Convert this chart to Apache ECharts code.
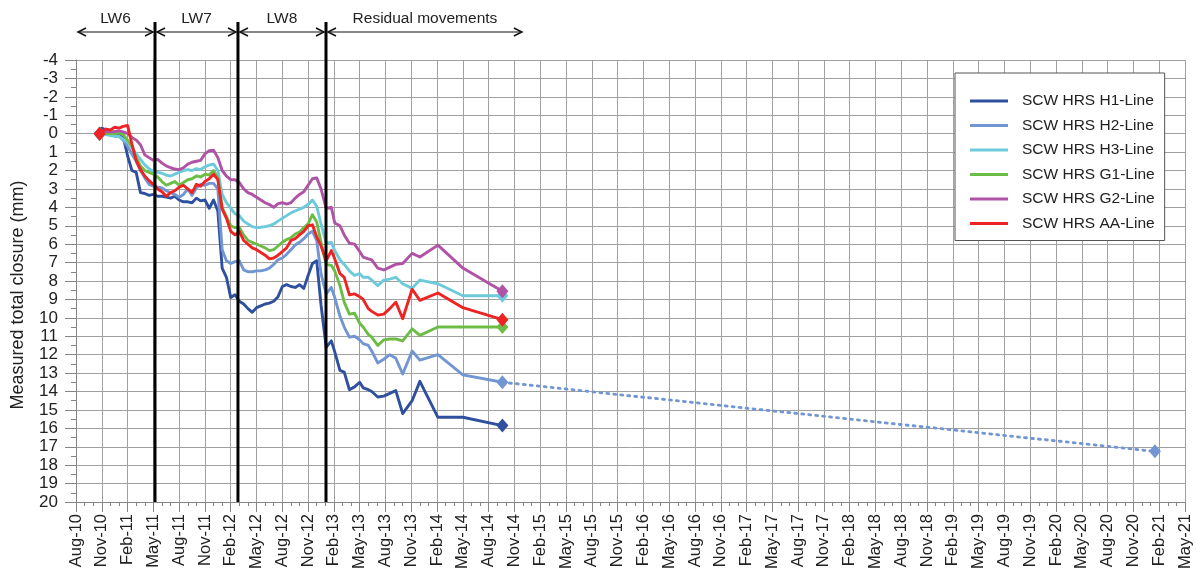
<!DOCTYPE html>
<html>
<head>
<meta charset="utf-8">
<script src="https://cdn.jsdelivr.net/npm/echarts@6/dist/echarts.min.js"></script>
<style>
html,body{margin:0;padding:0;background:#fff;}
#c{width:1196px;height:575px;}
</style>
</head>
<body>
<div id="c"></div>
<script>
// x values are months counted from Aug-2010
const tickLabels = ['Aug-10','Nov-10','Feb-11','May-11','Aug-11','Nov-11','Feb-12','May-12','Aug-12','Nov-12',
  'Feb-13','May-13','Aug-13','Nov-13','Feb-14','May-14','Aug-14','Nov-14','Feb-15','May-15','Aug-15','Nov-15',
  'Feb-16','May-16','Aug-16','Nov-16','Feb-17','May-17','Aug-17','Nov-17','Feb-18','May-18','Aug-18','Nov-18',
  'Feb-19','May-19','Aug-19','Nov-19','Feb-20','May-20','Aug-20','Nov-20','Feb-21','May-21'];

const months = [2.75, 3.0, 3.5, 4.0, 4.5, 5.0, 5.5, 6.0, 6.5, 7.0,
  7.5, 8.0, 8.5, 9.0, 9.5, 10.0, 10.5, 11.0, 11.5, 12.0,
  12.5, 13.0, 13.5, 14.0, 14.5, 15.0, 15.5, 16.0, 16.5, 17.0,
  17.5, 18.0, 18.5, 19.0, 19.5, 20.0, 20.5, 21.0, 21.5, 22.0,
  22.5, 23.0, 23.5, 24.0, 24.5, 25.0, 25.5, 26.0, 26.5, 27.0,
  27.5, 28.0, 28.5,
  29.1, 29.7, 30.1, 30.7, 31.2, 31.8, 32.4, 33.0, 33.4, 34.0, 34.4,
  35.1, 35.8, 36.5, 37.2, 38.0, 39.1, 40.0, 42.1, 45.0, 49.6];

const seriesNames = ['SCW HRS H1-Line','SCW HRS H2-Line','SCW HRS H3-Line','SCW HRS G1-Line','SCW HRS G2-Line','SCW HRS AA-Line'];

const h1Values = [0, -0.3, -0.2, -0.1, 0.05, 0.1, 0.2, 1.2, 2.0, 2.1,
  3.2, 3.25, 3.35, 3.3, 3.4, 3.4, 3.45, 3.5, 3.4, 3.6,
  3.7, 3.7, 3.75, 3.5, 3.65, 3.6, 4.05, 3.6, 4.2, 7.3,
  7.8, 8.9, 8.75, 9.1, 9.25, 9.5, 9.7, 9.45, 9.35, 9.25,
  9.2, 9.1, 8.85, 8.3, 8.2, 8.3, 8.35, 8.2, 8.4, 7.7,
  7.05, 6.9, 9.3,
  11.6, 11.25, 11.85, 12.85, 12.95, 13.9, 13.75, 13.5, 13.8, 13.9, 14.0,
  14.3, 14.25, 14.1, 13.95, 15.2, 14.5, 13.45, 15.4, 15.4, 15.85];

const h2Values = [0, 0.0, -0.05, 0.05, 0.1, 0.15, 0.35, 0.7, 1.1, 1.5,
  2.0, 2.4, 2.75, 2.85, 2.9, 2.95, 3.1, 3.2, 3.3, 3.45,
  3.3, 3.0, 3.35, 2.95, 2.75, 2.8, 2.7, 2.7, 3.0, 6.3,
  6.9, 7.05, 6.95, 6.9, 7.4, 7.5, 7.5, 7.45, 7.45, 7.4,
  7.3, 7.1, 6.85, 6.75, 6.55, 6.3, 6.05, 5.9, 5.7, 5.45,
  5.3, 5.8, 7.6,
  8.7, 8.35, 8.9, 9.9, 10.5, 11.05, 11.0, 11.2, 11.4, 11.5, 11.8,
  12.45, 12.25, 12.0, 12.2, 13.05, 11.8, 12.3, 12.0, 13.1, 13.5];

const h3Values = [0, 0.0, 0.05, 0.1, 0.15, 0.15, 0.3, 0.45, 0.75, 1.1,
  1.4, 1.7, 1.9, 2.05, 2.1, 2.15, 2.25, 2.3, 2.2, 2.1,
  2.0, 1.95, 2.0, 1.9, 1.95, 1.8, 1.7, 1.65, 2.0, 3.3,
  3.75, 4.05, 4.35, 4.45, 4.75, 4.9, 5.05, 5.1, 5.08, 5.05,
  5.0, 4.9, 4.75, 4.6, 4.45, 4.3, 4.2, 4.1, 4.0, 3.85,
  3.6, 3.95, 4.9,
  5.95, 5.9, 6.35, 6.85, 7.1, 7.45, 7.7, 7.6, 7.8, 7.8, 7.95,
  8.25, 7.95, 7.9, 7.8, 8.15, 8.4, 7.95, 8.15, 8.8, 8.8];

const g1Values = [0, -0.05, 0.0, 0.0, 0.0, -0.05, 0.05, 0.35, 0.7, 1.3,
  1.75, 2.0, 2.1, 2.2, 2.35, 2.6, 2.8, 2.7, 2.6, 2.8,
  2.65, 2.5, 2.45, 2.3, 2.35, 2.2, 2.25, 2.0, 2.4, 4.0,
  4.5, 5.0, 5.1, 5.1, 5.5, 5.8, 5.9, 6.0, 6.1, 6.2,
  6.35, 6.3, 6.1, 5.9, 5.75, 5.65, 5.45, 5.35, 5.1, 4.9,
  4.4, 4.8, 5.9,
  7.1, 7.15, 7.45, 8.25, 9.15, 9.8, 9.75, 10.3, 10.5, 10.9, 11.05,
  11.5, 11.2, 11.15, 11.15, 11.25, 10.6, 10.95, 10.5, 10.5, 10.5];

const g2Values = [0, -0.05, -0.1, -0.1, -0.12, -0.15, -0.1, 0.0, 0.2, 0.35,
  0.6, 1.15, 1.3, 1.45, 1.4, 1.6, 1.75, 1.85, 1.92, 1.95,
  1.85, 1.65, 1.55, 1.5, 1.45, 1.1, 0.92, 0.9, 1.3, 2.0,
  2.3, 2.5, 2.5, 2.65, 3.0, 3.2, 3.3, 3.45, 3.6, 3.75,
  3.85, 4.0, 3.8, 3.75, 3.82, 3.75, 3.5, 3.3, 3.15, 2.8,
  2.45, 2.4, 3.0,
  4.05, 4.0, 4.85, 5.0, 5.5, 5.95, 6.0, 6.4, 6.7, 6.8, 6.85,
  7.3, 7.4, 7.25, 7.1, 7.05, 6.5, 6.7, 6.05, 7.3, 8.55];

const aaValues = [0, -0.1, -0.25, -0.2, -0.35, -0.3, -0.4, -0.45, 0.55, 1.45,
  1.95, 2.3, 2.55, 2.75, 3.0, 3.15, 3.4, 3.2, 3.1, 2.9,
  2.8, 3.0, 3.2, 2.75, 2.85, 2.6, 2.45, 2.2, 2.5, 4.1,
  4.6, 5.3, 5.5, 5.3, 5.8, 6.0, 6.2, 6.3, 6.45, 6.6,
  6.8, 6.75, 6.6, 6.4, 6.2, 5.8, 5.7, 5.5, 5.3, 5.0,
  4.95, 5.6, 6.1,
  6.9, 6.35, 6.8, 7.6, 7.8, 8.75, 8.7, 8.85, 9.0, 9.5, 9.65,
  9.85, 9.8, 9.5, 9.15, 10.05, 8.45, 9.05, 8.65, 9.45, 10.1];

// dotted H2 projection
const h2ProjMonths = [49.6, 125.5];
const h2ProjValues = [13.5, 17.25];

const seriesValues = [h1Values, h2Values, h3Values, g1Values, g2Values, aaValues];
const seriesColors = ['#2f4f9f', '#7196d1', '#6ccadb', '#6cbd45', '#b052a6', '#ee2424'];

// mining phases (months from Aug-10)
const phaseLabels = ['LW6', 'LW7', 'LW8', 'Residual movements'];
const phaseEdges = [0, 9.19, 18.84, 29.08, 52.1];
const phaseLines = [9.19, 18.84, 29.08];

const FONT = '"Liberation Sans", Arial, Helvetica, sans-serif';
const chart = echarts.init(document.getElementById('c'), null, {renderer: 'canvas'});

function buildData(xs, vals, markStart) {
  return vals.map((v, i) => {
    const end = (i === vals.length - 1) || (markStart && i === 0);
    return {value: [xs[i], v], symbol: end ? 'diamond' : 'none', symbolSize: end ? [12, 14] : 0};
  });
}

const series = seriesValues.map((vals, k) => ({
  name: seriesNames[k],
  type: 'line',
  data: buildData(months, vals, true),
  showSymbol: true,
  showAllSymbol: true,
  lineStyle: {width: 2.9, color: seriesColors[k], join: 'round'},
  itemStyle: {color: seriesColors[k]},
  emphasis: {disabled: true},
  animation: false,
  z: 3 + k
}));
series.unshift({
  name: 'proj',
  type: 'line',
  data: buildData(h2ProjMonths, h2ProjValues, false),
  showSymbol: true,
  showAllSymbol: true,
  lineStyle: {width: 2.8, color: seriesColors[1], type: [2, 5], cap: 'round'},
  itemStyle: {color: seriesColors[1]},
  emphasis: {disabled: true},
  animation: false,
  z: 2
});

const option = {
  animation: false,
  backgroundColor: '#fff',
  textStyle: {fontFamily: FONT},
  grid: {left: 76, right: 11, top: 60, bottom: 73, containLabel: false},
  xAxis: {
    type: 'value', min: 0, max: 129, interval: 3,
    axisLine: {show: true, onZero: false, lineStyle: {color: '#858585', width: 1}},
    axisTick: {show: true, length: 10, lineStyle: {color: '#858585'}},
    minorTick: {show: true, splitNumber: 3, length: 4, lineStyle: {color: '#858585'}},
    splitLine: {show: true, lineStyle: {color: '#a0a0a0', width: 1}},
    axisLabel: {
      rotate: 90, margin: 12, fontSize: 16.5, color: '#222', fontFamily: FONT,
      showMinLabel: true, showMaxLabel: true,
      formatter: v => tickLabels[Math.round(v / 3)] || ''
    }
  },
  yAxis: {
    type: 'value', min: -4, max: 20, interval: 1, inverse: true,
    axisLine: {show: true, onZero: false, lineStyle: {color: '#858585', width: 1}},
    axisTick: {show: true, length: 11, lineStyle: {color: '#858585'}},
    minorTick: {show: true, splitNumber: 2, length: 5, lineStyle: {color: '#858585'}},
    splitLine: {show: true, lineStyle: {color: '#a0a0a0', width: 1}},
    axisLabel: {margin: 18, fontSize: 17, color: '#222', fontFamily: FONT}
  },
  legend: {
    data: seriesNames,
    orient: 'vertical',
    left: 955, top: 73,
    padding: [20, 10, 9, 15],
    itemGap: 8.5,
    itemWidth: 38, itemHeight: 3,
    icon: 'rect',
    backgroundColor: '#fff',
    borderColor: '#555', borderWidth: 1,
    selectedMode: false,
    textStyle: {fontFamily: FONT, fontSize: 15.5, color: '#222', lineHeight: 16, padding: [0, 0, 0, 9]}
  },
  series: series
};
chart.setOption(option);

const px = m => chart.convertToPixel({xAxisIndex: 0}, m);
const py = v => chart.convertToPixel({yAxisIndex: 0}, v);
const yBottom = py(20);
const yTop = 22, yArrow = 32, yText = 19;
const graphics = [];
phaseLines.forEach(m => {
  const x = px(m);
  graphics.push({type: 'line', shape: {x1: x, y1: yTop, x2: x, y2: yBottom},
    style: {stroke: '#000', lineWidth: 3}, z: 50});
});
for (let i = 0; i < phaseLabels.length; i++) {
  const x0 = px(phaseEdges[i]) + 2, x1 = px(phaseEdges[i + 1]) - 2;
  graphics.push({type: 'line', shape: {x1: x0, y1: yArrow, x2: x1, y2: yArrow},
    style: {stroke: '#111', lineWidth: 1.2}, z: 50});
  graphics.push({type: 'polyline', shape: {points: [[x0 + 8, yArrow - 4], [x0, yArrow], [x0 + 8, yArrow + 4]]},
    style: {stroke: '#111', lineWidth: 1.5, fill: null}, z: 50});
  graphics.push({type: 'polyline', shape: {points: [[x1 - 8, yArrow - 4], [x1, yArrow], [x1 - 8, yArrow + 4]]},
    style: {stroke: '#111', lineWidth: 1.5, fill: null}, z: 50});
  graphics.push({type: 'text', x: (x0 + x1) / 2, y: yText,
    style: {text: phaseLabels[i], fill: '#222', font: '15.5px ' + FONT, textAlign: 'center', textVerticalAlign: 'middle'}, z: 50});
}
graphics.push({type: 'text', x: 18, y: 295, rotation: Math.PI / 2,
  style: {text: 'Measured total closure (mm)', fill: '#222', font: '18px ' + FONT, textAlign: 'center', textVerticalAlign: 'middle'}, z: 50});
chart.setOption({graphic: graphics});
</script>
</body>
</html>
